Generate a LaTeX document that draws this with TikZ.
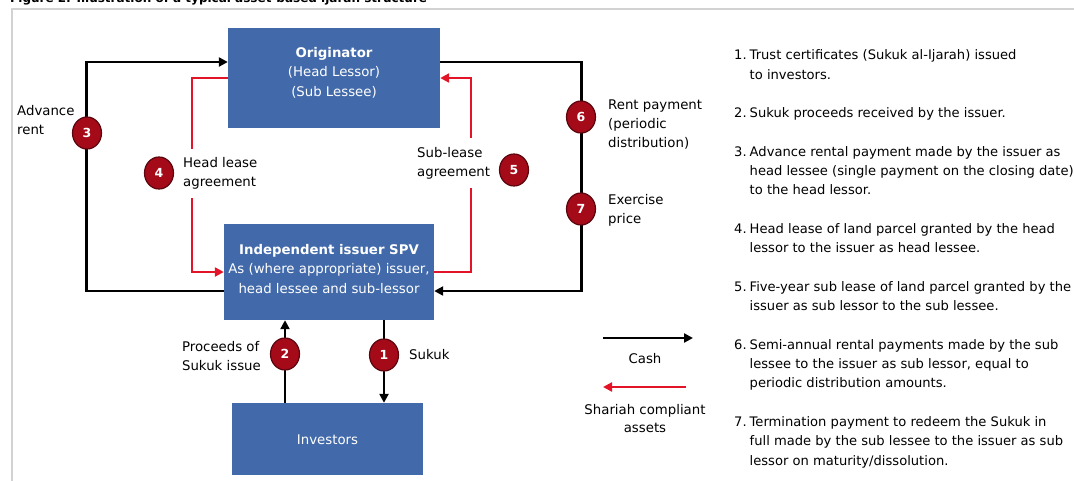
\documentclass[tikz,border=0pt]{standalone}
\usepackage{fontspec}
\setmainfont{DejaVu Sans}
\usetikzlibrary{arrows.meta,shapes.geometric}
\definecolor{boxblue}{RGB}{66,106,170}
\definecolor{leasered}{RGB}{228,20,40}
\definecolor{stepred}{RGB}{165,10,25}
\definecolor{framegray}{RGB}{210,210,210}
\tikzset{
  party/.style={fill=boxblue, inner sep=0pt},
  partytext/.style={text=white, align=center, font=\fontsize{13.3}{19.5}\selectfont, inner sep=0pt},
  cash/.style={->, line width=2.8pt, black},
  asset/.style={->, line width=2.5pt, leasered},
  num/.style={ellipse, fill=stepred, draw=stepred!55!black, line width=1.2pt, text=white,
    font=\bfseries\fontsize{12.5}{12.5}\selectfont, minimum width=29pt, minimum height=32pt, inner sep=0pt},
  lbl/.style={align=left, font=\fontsize{13.3}{19}\selectfont, inner sep=0pt},
  >={Triangle[length=9pt,width=9pt]}
}
\begin{document}
\begin{tikzpicture}[x=1pt, y=-1pt]
\useasboundingbox (0,0) rectangle (1074,480);
% frame and title
\draw[framegray, line width=2pt] (12,482) -- (12,9) -- (1076,9);
\node[anchor=base west, font=\bfseries\fontsize{12}{12}\selectfont, inner sep=0pt] (title) at (10,2.5) {Figure 2: Illustration of a typical asset-based ijarah structure};

% parties
\node[party, minimum width=212pt, minimum height=100pt] (orig) at (334,78) {};
\node[partytext] at (334,72.5) {\textbf{Originator}\\(Head Lessor)\\(Sub Lessee)};
\node[party, minimum width=210pt, minimum height=96pt] (spv) at (329,272) {};
\node[partytext] at (329,269) {\textbf{Independent issuer SPV}\\As (where appropriate) issuer,\\head lessee and sub-lessor};
\node[party, minimum width=191pt, minimum height=72pt] (inv) at (327.5,439) {};
\node[partytext] at (327.5,440) {Investors};

% cash flows
\draw[cash] ([yshift=-19pt]spv.west) -- ++(-137,0) |- ([yshift=16pt]orig.west);
\draw[cash] ([yshift=16pt]orig.east) -- ++(141,0) |- ([yshift=-19pt]spv.east);
\coordinate (sukukout) at ([xshift=55pt]spv.south);
\coordinate (proceedsin) at ([xshift=-44pt]spv.south);
\draw[cash] (sukukout) -- (sukukout |- inv.north);
\draw[cash] (proceedsin |- inv.north) -- (proceedsin);

% lease agreements
\draw[asset] (orig.west) -- ++(-36,0) |- (spv.west);
\draw[asset] (spv.east) -- ++(37,0) |- (orig.east);

% labels
\node[lbl, anchor=west] (advance) at (17,120) {Advance\\rent};
\node[lbl, anchor=west, fill=white, inner xsep=1pt, inner ysep=9pt] (headlease) at (182,173.5) {Head lease\\agreement};
\node[lbl, anchor=west, fill=white, inner xsep=1pt, inner ysep=9pt] (sublease) at (416,163) {Sub-lease\\agreement};
\node[lbl, anchor=west] (rent) at (608,124.5) {Rent payment\\(periodic\\distribution)};
\node[lbl, anchor=west] (exercise) at (608,210.5) {Exercise\\price};
\node[lbl, anchor=east] (proceeds) at (261,356) {Proceeds of\\Sukuk issue};
\node[lbl, anchor=west] (sukuk) at (409,355) {Sukuk};

% numbered steps
\node[num] (n1) at (384,355) {1};
\node[num] (n2) at (285,354) {2};
\node[num] (n3) at (87,133) {3};
\node[num] (n4) at (159,173) {4};
\node[num] (n5) at (514,170) {5};
\node[num] (n6) at (581,117) {6};
\node[num] (n7) at (581,209) {7};

% legend
\coordinate (cashL) at (603,338);
\coordinate (cashR) at (693,338);
\draw[cash] (cashL) -- (cashR);
\node[lbl, align=center] (cashtext) at (645,359) {Cash};
\coordinate (assetR) at (686,387);
\coordinate (assetL) at (603,387);
\draw[asset] (assetR) -- (assetL);
\node[lbl, align=center, font=\fontsize{13.3}{18}\selectfont] (assettext) at (645,419) {Shariah compliant\\assets};

% notes
\node[lbl, anchor=north west] (notes) at (734,46) {\fontsize{13.1}{19.3}\selectfont
\begin{tabular}{@{}l@{\hspace{3pt}}l@{}}
1. & Trust certificates (Sukuk al-Ijarah) issued\\
   & to investors.\\
   & \\
2. & Sukuk proceeds received by the issuer.\\
   & \\
3. & Advance rental payment made by the issuer as\\
   & head lessee (single payment on the closing date)\\
   & to the head lessor.\\
   & \\
4. & Head lease of land parcel granted by the head\\
   & lessor to the issuer as head lessee.\\
   & \\
5. & Five-year sub lease of land parcel granted by the\\
   & issuer as sub lessor to the sub lessee.\\
   & \\
6. & Semi-annual rental payments made by the sub\\
   & lessee to the issuer as sub lessor, equal to\\
   & periodic distribution amounts.\\
   & \\
7. & Termination payment to redeem the Sukuk in\\
   & full made by the sub lessee to the issuer as sub\\
   & lessor on maturity/dissolution.
\end{tabular}};
\end{tikzpicture}
\end{document}
